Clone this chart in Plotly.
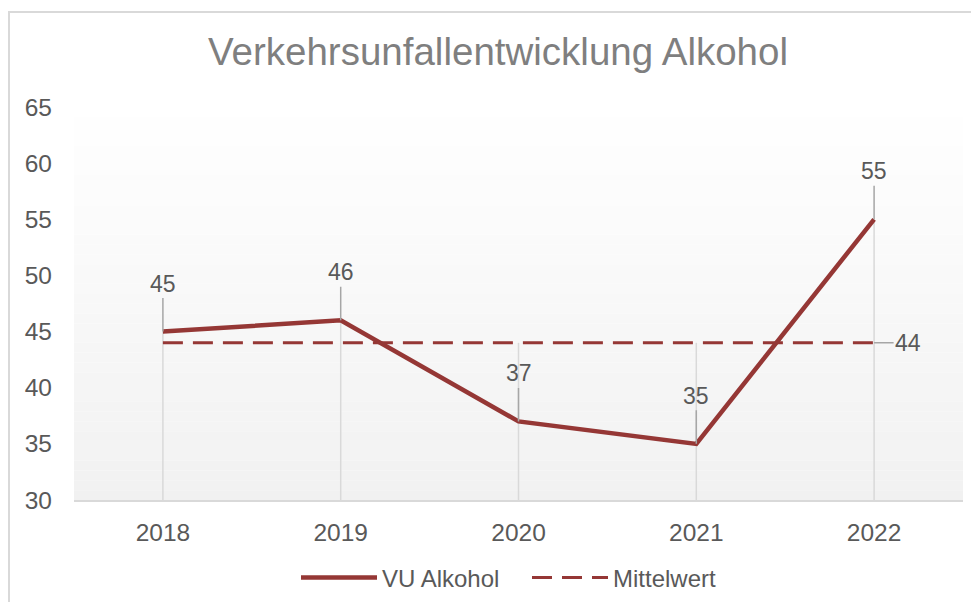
import numpy as np
import plotly.graph_objects as go

# ---- data ----
years = ["2018", "2019", "2020", "2021", "2022"]
vu_alkohol = [45, 46, 37, 35, 55]
mittelwert = [44, 44, 44, 44, 44]
y_ticks = [30, 35, 40, 45, 50, 55, 60, 65]

TITLE = "Verkehrsunfallentwicklung Alkohol"
LINE_RED = "#953735"
TEXT = "#595959"
FONT = "Liberation Sans, Arial, sans-serif"

W, H = 971, 594          # page adds an 8px body margin
L, T = 66, 99
PW, PH = 889, 393
OFF = 8

fig = go.Figure()

# drop lines from the higher of both series down to the axis
top = np.maximum(np.array(vu_alkohol), np.array(mittelwert))
dx, dy = [], []
for i, t in enumerate(top):
    dx += [i, i, None]
    dy += [float(t), y_ticks[0], None]
fig.add_trace(go.Scatter(x=dx, y=dy, mode="lines",
                         line=dict(color="#d9d9d9", width=1.5),
                         hoverinfo="skip", showlegend=False))

fig.add_trace(go.Scatter(x=list(range(len(years))), y=vu_alkohol, mode="lines",
                         name="VU Alkohol",
                         line=dict(color=LINE_RED, width=4.5), hoverinfo="skip"))
fig.add_trace(go.Scatter(x=list(range(len(years))), y=mittelwert, mode="lines",
                         name="Mittelwert",
                         line=dict(color=LINE_RED, width=3, dash="20px,10px"),
                         hoverinfo="skip"))

# data labels with leader lines
for i, v in enumerate(vu_alkohol):
    fig.add_annotation(x=i, y=v, xref="x", yref="y", text=str(v),
                       showarrow=True, arrowhead=0,
                       arrowwidth=1.5, arrowcolor="#a6a6a6", ax=0, ay=-48,
                       font=dict(family=FONT, size=23, color=TEXT))
fig.add_annotation(x=len(years) - 1, y=mittelwert[-1], xref="x", yref="y",
                   text=str(mittelwert[-1]),
                   showarrow=True, arrowhead=0, arrowwidth=1.5,
                   arrowcolor="#a6a6a6", ax=34, ay=0,
                   font=dict(family=FONT, size=23, color=TEXT))

# plot-area gradient background (white -> light gray)
n = 40
shapes = []
for i in range(n):
    c = int(round(255 - (255 - 241) * (i + 0.5) / n))
    shapes.append(dict(type="rect", xref="paper", yref="paper",
                       x0=0, x1=1, y0=1 - (i + 1) / n, y1=1 - i / n,
                       fillcolor=f"rgb({c},{c},{c})", line=dict(width=0),
                       layer="below"))
# chart border (partly outside the visible window)
shapes.append(dict(type="rect", xref="paper", yref="paper",
                   x0=-(L - 1) / PW, x1=1.5, y0=-1.0,
                   y1=(T + PH - (12 - OFF)) / PH,
                   line=dict(color="#d9d9d9", width=2), fillcolor="rgba(0,0,0,0)",
                   layer="below"))

fig.update_layout(
    width=W, height=H,
    margin=dict(l=L, r=W - L - PW, t=T, b=H - T - PH),
    paper_bgcolor="white", plot_bgcolor="rgba(0,0,0,0)",
    shapes=shapes,
    title=dict(text=TITLE, x=(498 - OFF) / W, xref="container", xanchor="center",
               y=1 - (52 - OFF) / H, yref="container", yanchor="middle",
               font=dict(family=FONT, size=38.5, color="#7f7f7f")),
    font=dict(family=FONT, color=TEXT),
    showlegend=True,
    legend=dict(orientation="h", xref="container", yref="container",
                x=(301 - OFF - 5) / W, xanchor="left",
                y=1 - (578 - OFF) / H, yanchor="middle",
                entrywidth=140, entrywidthmode="pixels",
                font=dict(family=FONT, size=24, color=TEXT),
                bgcolor="rgba(0,0,0,0)", itemwidth=76),
    hovermode=False,
)
fig.update_xaxes(type="linear", range=[-0.5, 4.5], showgrid=False,
                 tickvals=list(range(len(years))), ticktext=years,
                 showline=True, linecolor="#d9d9d9", linewidth=1.5,
                 zeroline=False, ticks="", ticklabelstandoff=10,
                 automargin=False,
                 tickfont=dict(family=FONT, size=24.5, color=TEXT),
                 fixedrange=True)
fig.update_yaxes(range=[30, 65], tickvals=y_ticks, showgrid=False,
                 showline=False, zeroline=False, ticks="",
                 ticklabelstandoff=21, automargin=False,
                 tickfont=dict(family=FONT, size=24.5, color=TEXT),
                 fixedrange=True)

fig.write_html("out.html")
